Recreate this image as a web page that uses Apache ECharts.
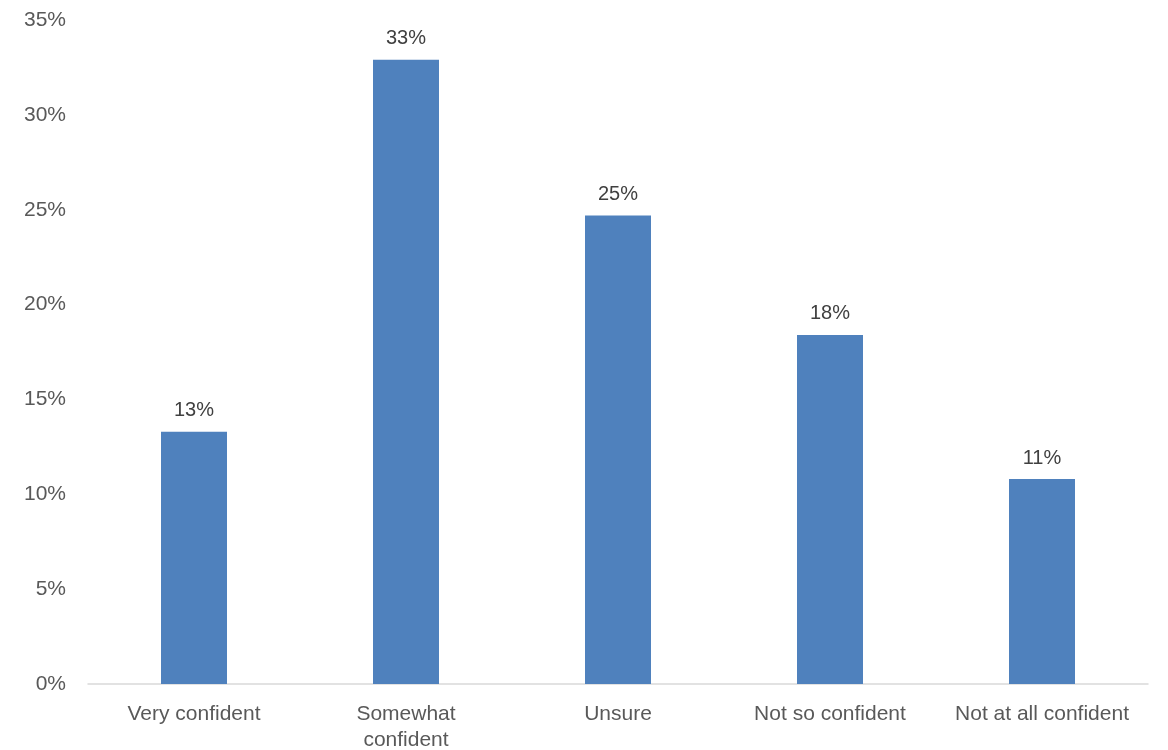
<!DOCTYPE html>
<html>
<head>
<meta charset="utf-8">
<script src="https://cdn.jsdelivr.net/npm/echarts@6/dist/echarts.min.js"></script>
<style>
html,body{margin:0;padding:0;background:#fff;}
#chart{width:1168px;height:750px;}
</style>
</head>
<body>
<div id="chart"></div>
<script>
const categories = ['Very confident', 'Somewhat\nconfident', 'Unsure', 'Not so confident', 'Not at all confident'];
const values = [13.3, 32.9, 24.7, 18.4, 10.8];
const yTicks = [0, 5, 10, 15, 20, 25, 30, 35];

const chart = echarts.init(document.getElementById('chart'));
chart.setOption({
  animation: false,
  grid: { left: 88, right: 20, top: 20, bottom: 66, containLabel: false, outerBoundsMode: 'none' },
  xAxis: {
    type: 'category',
    data: categories,
    axisLine: { lineStyle: { color: '#D9D9D9', width: 1.5 } },
    axisTick: { show: false },
    axisLabel: { color: '#595959', fontSize: 21, fontFamily: 'Liberation Sans, Arial, sans-serif', margin: 17, interval: 0, lineHeight: 26 }
  },
  yAxis: {
    type: 'value',
    min: yTicks[0],
    max: yTicks[yTicks.length - 1],
    interval: 5,
    splitLine: { show: false },
    axisLine: { show: false },
    axisTick: { show: false },
    axisLabel: { color: '#595959', fontSize: 21, fontFamily: 'Liberation Sans, Arial, sans-serif', margin: 22, formatter: v => v + '%' }
  },
  series: [{
    type: 'bar',
    data: values,
    barWidth: 66,
    itemStyle: { color: '#4F81BD' },
    label: {
      show: true,
      position: 'top',
      distance: 11,
      color: '#404040',
      fontSize: 20,
      fontFamily: 'Liberation Sans, Arial, sans-serif',
      formatter: p => Math.round(p.value) + '%'
    }
  }]
});
</script>
</body>
</html>
